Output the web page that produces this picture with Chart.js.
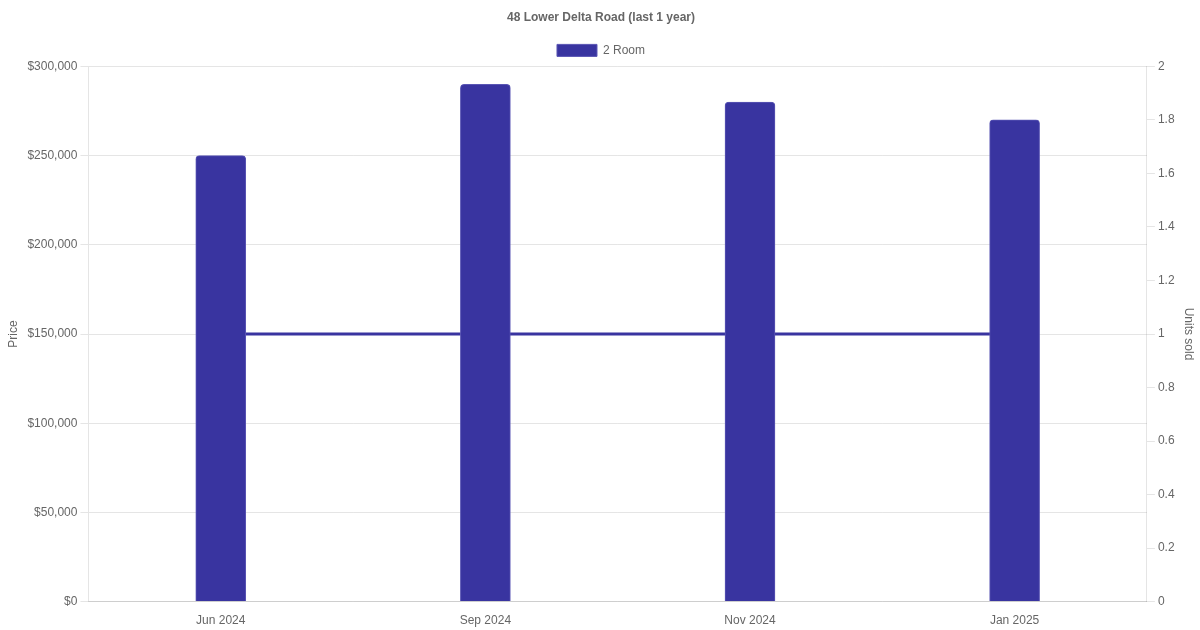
<!DOCTYPE html>
<html>
<head>
<meta charset="utf-8">
<title>48 Lower Delta Road</title>
<script src="https://cdn.jsdelivr.net/npm/chart.js@4"></script>
<style>
    html, body { margin: 0; padding: 0; background: #fff; }
    #wrap { width: 1200px; height: 630px; }
</style>
</head>
<body>
<div id="wrap"><canvas id="priceChart"></canvas></div>
<script>
// dados do gráfico
const months = ['Jun 2024', 'Sep 2024', 'Nov 2024', 'Jan 2025'];
const prices = [250000, 290000, 280000, 270000];
const unitsSold = [1, 1, 1, 1];
const barColor = '#3934a0';

Chart.defaults.font.family = '"Liberation Sans", Arial, sans-serif';
Chart.defaults.font.size = 12;
Chart.defaults.color = '#666';

new Chart(document.getElementById('priceChart').getContext('2d'), {
    type: 'bar',
    data: {
        labels: months,
        datasets: [
            {
                label: '2 Room',
                data: prices,
                yAxisID: 'y',
                backgroundColor: barColor,
                borderColor: 'rgba(90, 86, 180, 1)',
                borderWidth: 1,
                borderRadius: 4,
                borderSkipped: 'bottom',
                barThickness: 50,
                order: 1
            },
            {
                type: 'line',
                label: 'Units sold',
                data: unitsSold,
                yAxisID: 'y1',
                borderColor: barColor,
                backgroundColor: barColor,
                borderWidth: 3,
                pointRadius: 0,
                fill: false,
                tension: 0,
                order: 2
            }
        ]
    },
    options: {
        responsive: true,
        maintainAspectRatio: false,
        animation: false,
        layout: { padding: { left: 2, right: 0, top: 0, bottom: -2 } },
        plugins: {
            title: {
                display: true,
                text: '48 Lower Delta Road (last 1 year)',
                color: '#666',
                font: { size: 12, weight: 'bold' },
                padding: { top: 10, bottom: 10 }
            },
            legend: {
                display: true,
                labels: {
                    filter: item => item.datasetIndex === 0
                }
            },
            tooltip: { enabled: false }
        },
        scales: {
            x: {
                grid: { display: false },
                ticks: { padding: 4 }
            },
            y: {
                position: 'left',
                min: 0,
                max: 300000,
                ticks: {
                    stepSize: 50000,
                    callback: v => '$' + v.toLocaleString('en-US')
                },
                title: { display: true, text: 'Price' },
                grid: { color: 'rgba(0, 0, 0, 0.1)' }
            },
            y1: {
                position: 'right',
                min: 0,
                max: 2,
                ticks: {
                    stepSize: 0.2,
                    callback: v => String(Math.round(v * 10) / 10)
                },
                title: { display: true, text: 'Units sold' },
                grid: { drawOnChartArea: false }
            }
        }
    }
});
</script>
</body>
</html>
